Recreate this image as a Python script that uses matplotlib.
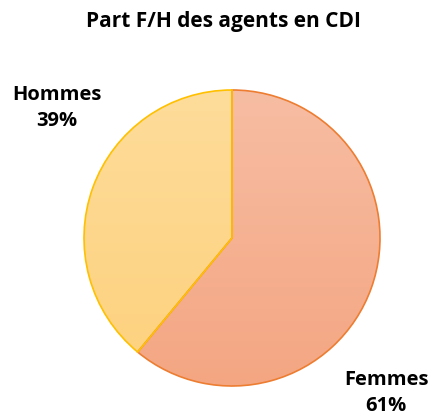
import matplotlib
matplotlib.use("Agg")
import matplotlib.pyplot as plt
import numpy as np
from matplotlib.colors import LinearSegmentedColormap

categories = ["Femmes", "Hommes"]
values = [61, 39]
title = "Part F/H des agents en CDI"

edge_colors = ["#ED7D31", "#FFC000"]
grad_colors = [("#F7BDA3", "#F4A682"), ("#FEDC9A", "#FDD17D")]

plt.rcParams['font.family'] = ['Open Sans', 'DejaVu Sans']

fig = plt.figure(figsize=(4.30, 4.18), dpi=100)
ax = fig.add_axes([0, 0, 1, 1])
W, H = 430, 418
cx, cy, r = 232, H - 238, 148

wedges, _ = ax.pie(values, startangle=90, counterclock=False, center=(cx, cy),
                   radius=r, colors=["none", "none"],
                   wedgeprops=dict(linewidth=1.2), frame=True)
for w, ec, (c_top, c_bot) in zip(wedges, edge_colors, grad_colors):
    w.set_edgecolor(ec)
    w.set_facecolor("none")
    w.set_zorder(3)
    cmap = LinearSegmentedColormap.from_list("g", [c_bot, c_top])
    grad = np.linspace(0, 1, 256).reshape(-1, 1)
    im = ax.imshow(grad, cmap=cmap, origin="lower", aspect="auto",
                   extent=(cx - r, cx + r, cy - r, cy + r), zorder=2,
                   interpolation="bicubic")
    im.set_clip_path(w)

ax.set_xlim(0, W)
ax.set_ylim(0, H)
ax.set_aspect("equal")
ax.axis("off")

ax.text(223, H - 21, title, ha="center", va="center", fontsize=15, fontweight="bold", color="#000000")
ax.text(57, H - 108, f"{categories[1]}\n{values[1]}%", ha="center", va="center",
        fontsize=14.5, fontweight="bold", linespacing=1.4)
ax.text(386, H - 393, f"{categories[0]}\n{values[0]}%", ha="center", va="center",
        fontsize=14.5, fontweight="bold", linespacing=1.35)

fig.savefig("out.png", dpi=100, facecolor="white")
